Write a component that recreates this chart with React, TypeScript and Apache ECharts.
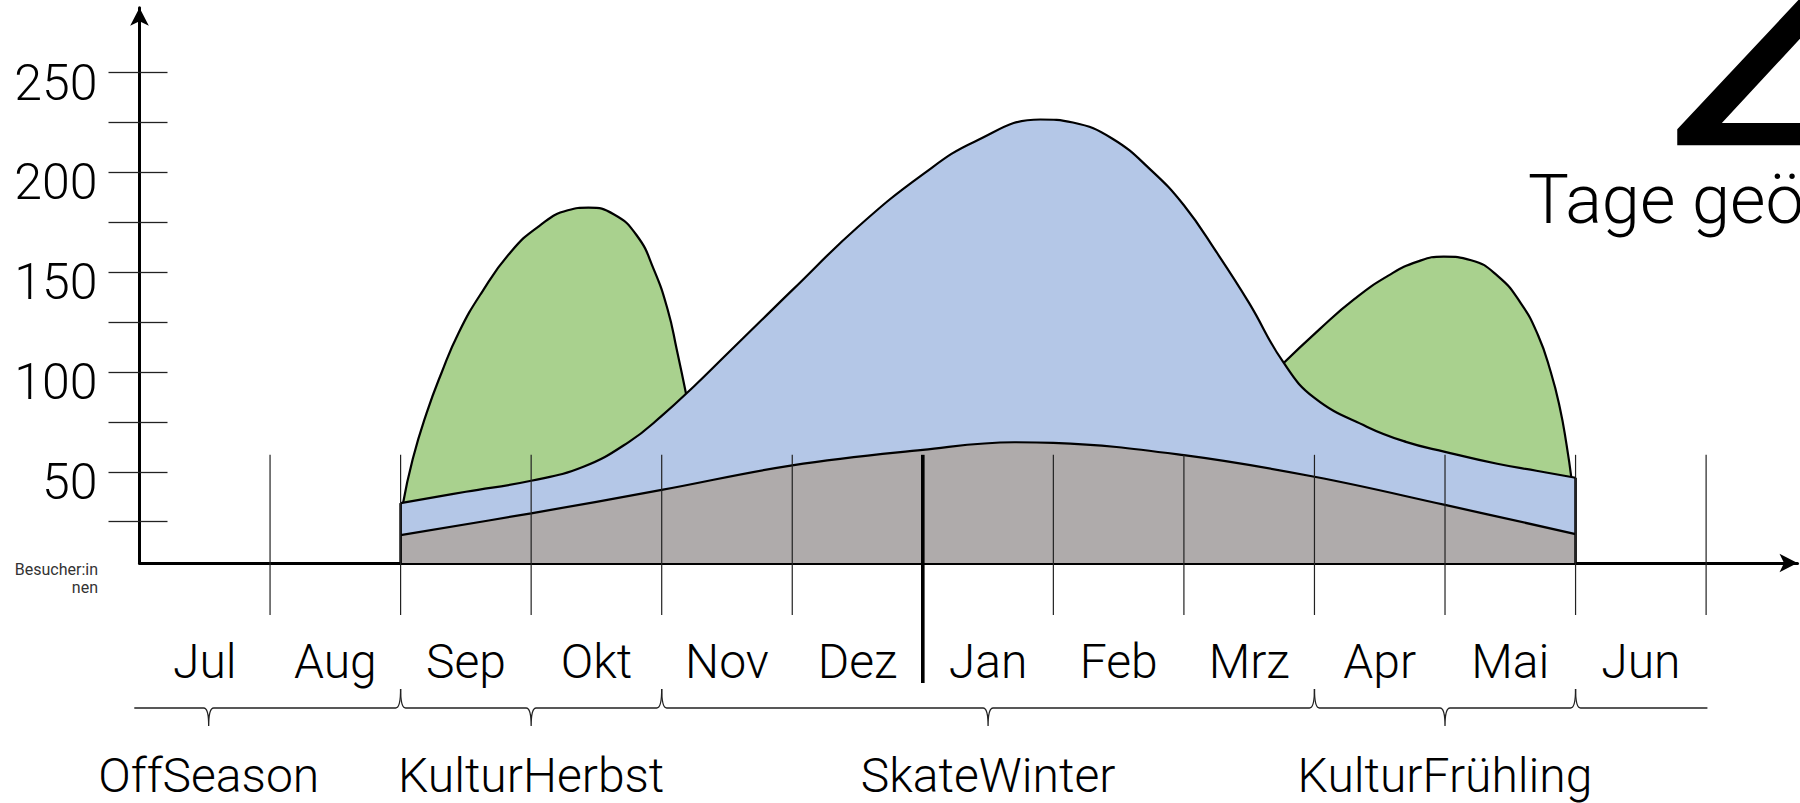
import React, { useEffect, useRef } from "react";
import * as echarts from "echarts";

// ---------- data ----------
const months = ["Jul", "Aug", "Sep", "Okt", "Nov", "Dez", "Jan", "Feb", "Mrz", "Apr", "Mai", "Jun"];
const monthBoundaries = [1, 2, 3, 4, 5, 6, 7, 8, 9, 10, 11, 12];
const yearChange = 6; // boundary Dez | Jan
const yTicks = [25, 50, 75, 100, 125, 150, 175, 200, 225, 250];
const yLabels = [50, 100, 150, 200, 250];

// x = month position (0 = start of Jul), y = Besucher:innen
const grayBase: [number, number][] = [
  [2.0, 18.3], [3.0, 29.2], [4.0, 40.9], [5.0, 53.2], [6.0, 61], [6.7, 64.8],
  [7.0, 64.5], [8.0, 58.3], [9.0, 47.5], [10.0, 33.4], [11.0, 18.8],
];
const blueTotal: [number, number][] = [
  [2.0, 34.3], [2.5, 40], [3.0, 45.5], [3.4, 52.5], [3.75, 65], [4.0, 78], [4.25, 93],
  [4.5, 109], [4.75, 125], [5.0, 141], [5.5, 172.5], [6.0, 199], [6.4, 215.5], [6.9, 226.5],
  [7.15, 225], [7.45, 217], [7.75, 201], [8.0, 183.5], [8.25, 160], [8.5, 134.5],
  [8.76, 105], [9.0, 87], [9.4, 72.6], [9.7, 65], [10.0, 60], [10.4, 54], [10.7, 50.5], [11.0, 47],
];
const greenAutumn: [number, number][] = [
  [2.015, 33], [2.093, 56.4], [2.199, 79.4], [2.313, 99.5], [2.445, 119.7], [2.621, 139.8],
  [2.841, 159.9], [3.061, 173.1], [3.281, 181], [3.439, 182.3], [3.632, 179], [3.808, 168.5],
  [3.94, 151.3], [4.046, 131.2], [4.116, 111], [4.19, 88],
];
const greenSpring: [number, number][] = [
  [8.74, 103], [9.04, 121.5], [9.305, 136.5], [9.569, 148.4], [9.789, 155.3], [9.99, 157.8],
  [10.2, 156], [10.405, 148], [10.58, 134.5], [10.712, 118.5], [10.81, 100], [10.88, 82],
  [10.93, 64], [10.97, 46],
];
const seasons = [
  { name: "OffSeason", from: -0.04, to: 2, mid: 0.53 },
  { name: "KulturHerbst", from: 2, to: 4, mid: 3 },
  { name: "SkateWinter", from: 4, to: 9, mid: 6.5 },
  { name: "KulturFrühling", from: 9, to: 11, mid: 10 },
  { name: "", from: 11, to: 12.01, mid: null as number | null },
];

// ---------- layout ----------
const Y_MIN = 4.3;
const Y_MAX = 282.5;
const X_MIN = 0;
const X_MAX = 12.7;
const LINE_TOP_VALUE = 58.5;
const FONT = "Roboto";

export default function App() {
  const ref = useRef<HTMLDivElement>(null);
  useEffect(() => {
    if (!ref.current) return;
    const chart = echarts.init(ref.current, null, { renderer: "svg" });

    const areaSeries = (name: string, data: [number, number][], color: string, z: number, smooth: number) => ({
      type: "line",
      name,
      data,
      smooth,
      showSymbol: false,
      symbol: "none",
      z,
      lineStyle: { color: "#000", width: 2.2 },
      areaStyle: { color, opacity: 1, origin: "start" },
      silent: true,
    });

    const option: any = {
      animation: false,
      backgroundColor: "#fff",
      textStyle: { fontFamily: FONT },
      grid: { left: 139.5, right: 2.5, top: 7.7, bottom: 240, containLabel: false },
      xAxis: {
        type: "value",
        min: X_MIN,
        max: X_MAX,
        axisLine: {
          show: true,
          symbol: ["none", "arrow"],
          symbolSize: [14, 18],
          lineStyle: { color: "#000", width: 3 },
        },
        axisTick: { show: false },
        splitLine: { show: false },
        axisLabel: {
          customValues: months.map((_, i) => i + 0.5),
          formatter: (v: number) => months[Math.round(v - 0.5)] ?? "",
          fontSize: 48,
          fontWeight: 300,
          fontFamily: FONT,
          color: "#000",
          margin: 98,
          verticalAlign: "middle",
        },
      },
      yAxis: [
        {
          type: "value",
          min: Y_MIN,
          max: Y_MAX,
          position: "left",
          axisLine: {
            show: true,
            symbol: ["none", "arrow"],
            symbolSize: [14, 18],
            lineStyle: { color: "#000", width: 3 },
          },
          axisTick: {
            show: true,
            customValues: yTicks,
            inside: false,
            length: 31,
            lineStyle: { color: "#222", width: 1.3 },
          },
          axisLabel: {
            customValues: yLabels,
            fontSize: 50,
            fontWeight: 300,
            fontFamily: FONT,
            color: "#000",
            margin: 42,
            verticalAlign: "top",
            lineHeight: 20,
          },
          splitLine: { show: false },
        },
        {
          type: "value",
          min: Y_MIN,
          max: Y_MAX,
          position: "left",
          offset: 0,
          axisLine: { show: false },
          axisTick: {
            show: true,
            customValues: yTicks,
            inside: true,
            length: 28,
            lineStyle: { color: "#222", width: 1.3 },
          },
          axisLabel: { show: false },
          splitLine: { show: false },
        },
      ],
      series: [
        areaSeries("Kultur Herbst", greenAutumn, "#A9D18E", 1, 0.5),
        areaSeries("Kultur Frühling", greenSpring, "#A9D18E", 1, 0.5),
        areaSeries("Skate", blueTotal, "#B4C7E7", 2, 0.45),
        areaSeries("Basis", grayBase, "#AFABAB", 3, 0.4),
        {
          type: "custom",
          name: "edges",
          z: 4,
          clip: false,
          silent: true,
          data: [blueTotal[0], blueTotal[blueTotal.length - 1]],
          encode: { x: 0, y: 1 },
          renderItem: (_p: any, api: any) => {
            const x = api.value(0);
            const top = api.coord([x, api.value(1)]);
            const bot = api.coord([x, Y_MIN]);
            return {
              type: "line",
              shape: { x1: top[0], y1: top[1], x2: bot[0], y2: bot[1] },
              style: { stroke: "#000", lineWidth: 2.6 },
            };
          },
        },
        {
          type: "custom",
          name: "months",
          z: 5,
          clip: false,
          silent: true,
          data: monthBoundaries.map((m) => [m, LINE_TOP_VALUE]),
          encode: { x: 0, y: 1 },
          renderItem: (_p: any, api: any) => {
            const m = api.value(0);
            const top = api.coord([m, LINE_TOP_VALUE]);
            const axis = api.coord([m, Y_MIN]);
            const thick = m === yearChange;
            return {
              type: "line",
              shape: { x1: top[0], y1: top[1], x2: top[0], y2: axis[1] + (thick ? 120 : 52) },
              style: { stroke: thick ? "#000" : "#222", lineWidth: thick ? 3.6 : 1.2 },
            };
          },
        },
        {
          type: "custom",
          name: "seasons",
          z: 5,
          clip: false,
          silent: true,
          data: seasons.map((s, i) => [s.from, Y_MIN, i]),
          encode: { x: 0, y: 1 },
          renderItem: (_p: any, api: any) => {
            const s = seasons[api.value(2)];
            const y0 = api.coord([0, Y_MIN])[1];
            const xa = api.coord([s.from, Y_MIN])[0];
            const xb = api.coord([s.to, Y_MIN])[0];
            const by = y0 + 145;
            const up = y0 + 126;
            const down = y0 + 163;
            const r = 5;
            const leftCusp = seasons.some((o) => o.to === s.from);
            const rightCusp = seasons.some((o) => o.from === s.to);
            let d = leftCusp ? `M${xa},${up} Q${xa},${by} ${xa + r},${by}` : `M${xa},${by}`;
            if (s.mid !== null) {
              const xc = api.coord([s.mid, Y_MIN])[0];
              d += ` L${xc - r},${by} Q${xc},${by} ${xc},${down} Q${xc},${by} ${xc + r},${by}`;
            }
            d += rightCusp ? ` L${xb - r},${by} Q${xb},${by} ${xb},${up}` : ` L${xb},${by}`;
            const children: any[] = [
              {
                type: "path",
                shape: { pathData: d },
                style: { stroke: "#222", lineWidth: 1.3, fill: null },
              },
            ];
            if (s.mid !== null && s.name) {
              const xc = api.coord([s.mid, Y_MIN])[0];
              children.push({
                type: "text",
                style: {
                  text: s.name,
                  x: xc,
                  y: y0 + 212,
                  fill: "#000",
                  font: `300 48px ${FONT}`,
                  align: "center",
                  verticalAlign: "middle",
                },
              });
            }
            return { type: "group", children };
          },
        },
      ],
      graphic: [
        {
          type: "text",
          x: 98,
          y: 561,
          style: {
            text: "Besucher:in\nnen",
            fill: "#333",
            font: `400 16px ${FONT}`,
            lineHeight: 17.6,
            align: "right",
            verticalAlign: "top",
          },
        },
        {
          type: "text",
          x: 1666,
          y: 92,
          scaleX: 1.45,
          style: {
            text: "4",
            x: 0,
            y: 0,
            fill: "#000",
            font: `400 300px ${FONT}`,
            align: "left",
            verticalAlign: "middle",
          },
        },
        {
          type: "text",
          x: 1528,
          y: 199,
          style: {
            text: "Tage geöffnet",
            fill: "#000",
            font: `300 68.5px ${FONT}`,
            align: "left",
            verticalAlign: "middle",
          },
        },
      ],
    };
    chart.setOption(option);
    return () => chart.dispose();
  }, []);
  return (
    <div
      ref={ref}
      style={{ position: "fixed", left: 0, top: 0, width: 1800, height: 803, background: "#fff" }}
    />
  );
}
